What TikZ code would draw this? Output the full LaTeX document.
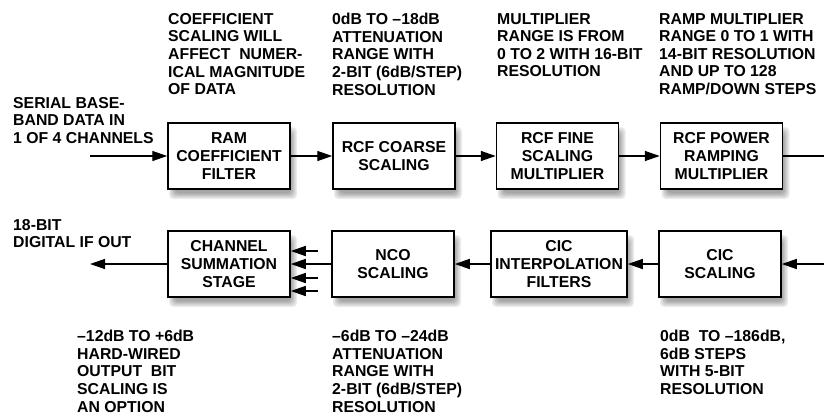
\documentclass[tikz,border=0pt]{standalone}
\usepackage{fontspec}
\setmainfont{Liberation Sans}
\usetikzlibrary{arrows.meta}
\begin{document}
\begin{tikzpicture}[x=1pt,y=-1pt,
  every node/.style={font=\fontsize{15.8}{17.6}\selectfont\bfseries},
  blk/.style={draw,line width=1.5pt,fill=white,minimum width=122pt,minimum height=66pt,
    align=center,inner sep=0pt},
  note/.style={anchor=north west,align=left,inner sep=0pt},
  arr/.style={line width=1.4pt,-{Triangle[length=15pt,width=10pt]}},
  ln/.style={line width=1.4pt}]
\useasboundingbox (0,0) rectangle (824,415);

% soft shadows drawn first (solid greys, lightest outside)
\foreach \cx/\cy/\w in {229/156/122,394/156/122,557.5/156/122,721.5/156/122,
                        229/264/122,393/264/122,559/264/136,720/264/122}{
  \foreach \i/\g in {-3/7,-2/12,-1/17,0/22,1/27,2/31,3/35}{
    \fill[black!\g,rounded corners=4pt]
      (\cx-\w/2+4+\i,\cy-33+7+\i) rectangle (\cx+\w/2+4-\i,\cy+33+7-\i);
  }
}

% top row
\node[blk] (ram) at (229,156) {RAM\\COEFFICIENT\\FILTER};
\node[blk] (coarse) at (394,156) {RCF COARSE\\SCALING};
\node[blk] (fine) at (557.5,156) {RCF FINE\\SCALING\\MULTIPLIER};
\node[blk] (power) at (721.5,156) {RCF POWER\\RAMPING\\MULTIPLIER};

% bottom row
\node[blk] (chan) at (229,264) {CHANNEL\\SUMMATION\\STAGE};
\node[blk] (nco) at (393,264) {NCO\\SCALING};
\node[blk,minimum width=136pt] (cici) at (559,264) {CIC\\INTERPOLATION\\FILTERS};
\node[blk] (cics) at (720,264) {CIC\\SCALING};

% coordinates
\coordinate (inA) at (90,156);
\coordinate (outR) at (824,156);
\coordinate (inR) at (824,264);
\coordinate (outA) at (90,264);
\coordinate (x1) at (318,251);
\coordinate (x2) at (318,278);
\coordinate (x3) at (318,291);

% connectors
\draw[arr] (inA) -- (ram.west);
\draw[arr] (ram) -- (coarse);
\draw[arr] (coarse) -- (fine);
\draw[arr] (fine) -- (power);
\draw[ln] (power.east) -- (outR);
\draw[arr] (inR) -- (cics.east);
\draw[arr] (cics) -- (cici);
\draw[arr] (cici) -- (nco);
\draw[arr] (nco) -- (chan);
\draw[arr] (chan.west) -- (outA);
\draw[arr] (x1) -- (chan.east |- x1);
\draw[arr] (x2) -- (chan.east |- x2);
\draw[arr] (x3) -- (chan.east |- x3);

% notes
\node[note] (n1) at (168,13) {COEFFICIENT\\SCALING WILL\\AFFECT\ \ NUMER-\\ICAL MAGNITUDE\\OF DATA};
\node[note] (n2) at (332,13) {0dB TO –18dB\\ATTENUATION\\RANGE WITH\\2-BIT (6dB/STEP)\\RESOLUTION};
\node[note] (n3) at (497,13) {MULTIPLIER\\RANGE IS FROM\\0 TO 2 WITH 16-BIT\\RESOLUTION};
\node[note] (n4) at (659,13) {RAMP MULTIPLIER\\RANGE 0 TO 1 WITH\\14-BIT RESOLUTION\\AND UP TO 128\\RAMP/DOWN STEPS};
\node[note] (nin) at (13,97) {SERIAL BASE-\\BAND DATA IN\\1 OF 4 CHANNELS};
\node[note] (nout) at (13,219) {18-BIT\\DIGITAL IF OUT};
\node[note] (b1) at (77,330) {–12dB TO +6dB\\HARD-WIRED\\OUTPUT\ \ BIT\\SCALING IS\\AN OPTION};
\node[note] (b2) at (332,330) {–6dB TO –24dB\\ATTENUATION\\RANGE WITH\\2-BIT (6dB/STEP)\\RESOLUTION};
\node[note] (b3) at (660,330) {0dB\ \ TO –186dB,\\6dB STEPS\\WITH 5-BIT\\RESOLUTION};
\end{tikzpicture}
\end{document}
